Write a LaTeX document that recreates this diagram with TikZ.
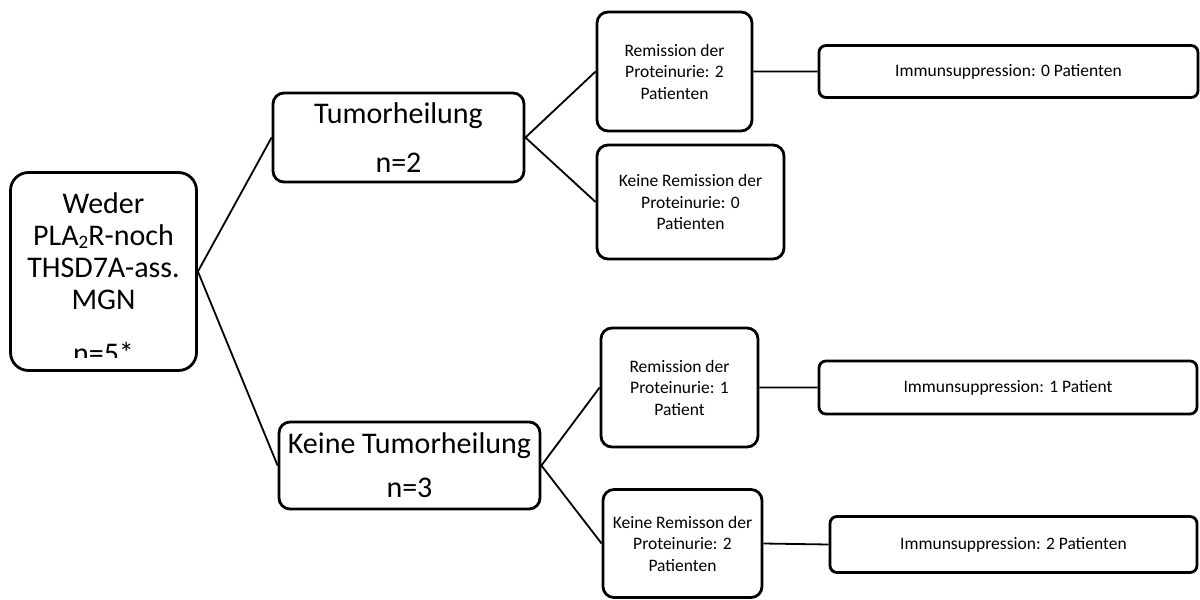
\documentclass[tikz,border=0pt]{standalone}
\usepackage{fontspec}
\setmainfont{Carlito}
\newcommand{\subtwo}{\raisebox{-3pt}{\fontsize{19}{19}\selectfont 2}}
\begin{document}
\begin{tikzpicture}[x=1pt,y=-1pt,
	box/.style={draw,line width=2.8pt,rounded corners=11pt,inner sep=0pt,align=center},
	big/.style={font=\fontsize{30}{32}\selectfont},
	small/.style={font=\fontsize{17.5}{21.5}\selectfont}]
	\useasboundingbox (0,0) rectangle (1200,600);
	\node[box,rounded corners=18pt,minimum width=186pt,minimum height=198pt] (root) at (103.5,271.5) {};
	\begin{scope}
		\clip (12,174) rectangle (195,357);
		\node[big,align=center] (roottext) at (103.5,278) {Weder\\PLA\subtwo R-noch\\THSD7A-ass.\\MGN\\[22pt]n=5*};
	\end{scope}
	\node[box,big,minimum width=251pt,minimum height=89pt] (tumor) at (398.5,137.5) {Tumorheilung\\[17pt]n=2};
	\node[box,big,minimum width=261pt,minimum height=87pt] (notumor) at (409.5,465.5) {Keine Tumorheilung\\[12pt]n=3};
	\node[box,small,minimum width=155pt,minimum height=119pt] (rem2) at (674.5,71.5) {Remission der\\Proteinurie: 2\\Patienten};
	\node[box,small,minimum width=187pt,minimum height=114pt] (norem0) at (690.5,202) {Keine Remission der\\Proteinurie: 0\\Patienten};
	\node[box,small,minimum width=157pt,minimum height=119pt] (rem1) at (679.5,387.5) {Remission der\\Proteinurie: 1\\Patient};
	\node[box,small,minimum width=159pt,minimum height=108pt] (norem2) at (682.5,543.5) {Keine Remisson der\\Proteinurie: 2\\Patienten};
	\node[box,small,rounded corners=7pt,minimum width=379pt,minimum height=52pt] (imm0) at (1008.5,71.5) {Immunsuppression: 0 Patienten};
	\node[box,small,rounded corners=7pt,minimum width=378pt,minimum height=53pt] (imm1) at (1008,387.5) {Immunsuppression: 1 Patient};
	\node[box,small,rounded corners=7pt,minimum width=367pt,minimum height=56pt] (imm2) at (1013.5,544.5) {Immunsuppression: 2 Patienten};
	\draw[line width=1.8pt] (root.east) -- (tumor.west) (root.east) -- (notumor.west) (tumor.east) -- (rem2.west) (tumor.east) -- (norem0.west) (notumor.east) -- (rem1.west) (notumor.east) -- (norem2.west) (rem2.east) -- (imm0.west) (rem1.east) -- (imm1.west) (norem2.east) -- (imm2.west);
\end{tikzpicture}
\end{document}
